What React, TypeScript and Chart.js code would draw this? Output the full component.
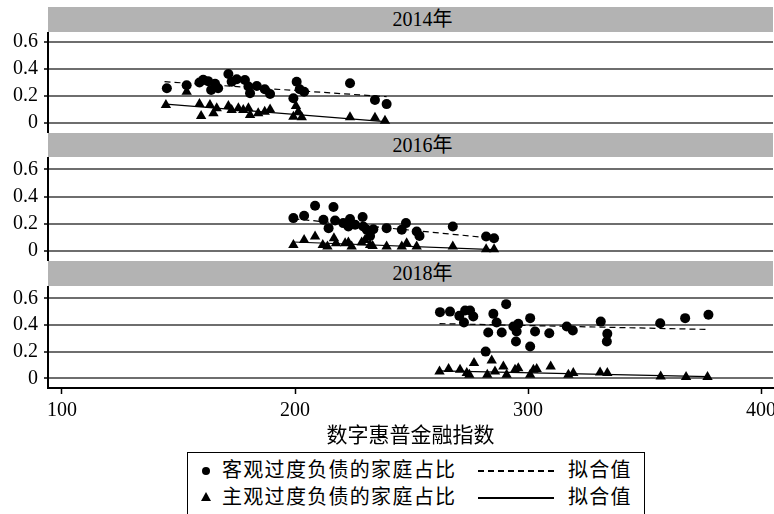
import React, { useEffect, useRef } from "react";
import { Chart, registerables } from "chart.js";
Chart.register(...registerables);

const FONT = '"Liberation Serif", "Times New Roman", "Noto Sans CJK SC", serif';

const panelTitles = ["2014年", "2016年", "2018年"];
const xTicks = [100, 200, 300, 400];
const yTicks = [0, 0.2, 0.4, 0.6];
const xTitle = "数字惠普金融指数";
const legendObj = "客观过度负债的家庭占比";
const legendSubj = "主观过度负债的家庭占比";
const legendFit = "拟合值";

// 2014
const obj14X = [145, 153.5, 159, 160.6, 162.7, 165.7, 164, 167, 171.4, 172.8, 175, 178.5, 180, 180.7, 183.6, 187, 189.3, 199.3, 200.7, 202, 203.9, 223.6, 234.3, 239.3];
const obj14Y = [0.257, 0.28, 0.3, 0.32, 0.31, 0.29, 0.244, 0.257, 0.363, 0.306, 0.324, 0.318, 0.27, 0.22, 0.274, 0.25, 0.215, 0.183, 0.306, 0.25, 0.232, 0.294, 0.17, 0.14];
const subj14X = [144.6, 153.5, 159, 159.7, 163.5, 165, 166.4, 171.4, 172.8, 175.7, 177.8, 180, 180.7, 184.2, 187, 189.3, 199.3, 200.4, 201.4, 202.9, 223.6, 234.3, 238.6];
const subj14Y = [0.133, 0.232, 0.14, 0.052, 0.133, 0.072, 0.109, 0.126, 0.096, 0.109, 0.096, 0.11, 0.059, 0.072, 0.084, 0.1, 0.047, 0.126, 0.084, 0.042, 0.042, 0.039, 0.017];
const fitObj14X = [144, 239.3];
const fitObj14Y = [0.306, 0.195];
const fitSubj14X = [144.6, 238.6];
const fitSubj14Y = [0.14, 0.01];

// 2016
const obj16X = [199.3, 203.9, 208.6, 212.2, 214.4, 216.5, 217.2, 220.7, 223.6, 222.9, 225.8, 229, 229.3, 230.8, 232.2, 233.6, 239.3, 245.8, 247.6, 252.2, 253.4, 267.7, 282, 285.4];
const obj16Y = [0.242, 0.259, 0.333, 0.23, 0.168, 0.324, 0.224, 0.205, 0.235, 0.18, 0.193, 0.25, 0.18, 0.156, 0.111, 0.16, 0.168, 0.156, 0.205, 0.143, 0.111, 0.18, 0.106, 0.094];
const subj16X = [199.3, 203.9, 208.6, 211.9, 213.9, 216.7, 217.6, 221.5, 222.9, 224.3, 228.6, 230, 232.2, 233.3, 239.3, 245.8, 247.9, 252.2, 267.7, 282, 285.4];
const subj16Y = [0.044, 0.081, 0.106, 0.044, 0.032, 0.094, 0.057, 0.057, 0.062, 0.032, 0.062, 0.081, 0.044, 0.037, 0.032, 0.032, 0.057, 0.032, 0.032, 0.013, 0.013];
const fitObj16X = [199.3, 285.4];
const fitObj16Y = [0.237, 0.093];
const fitSubj16X = [199.3, 285.4];
const fitSubj16Y = [0.066, 0.01];

// 2018
const obj18X = [262.2, 266.5, 270.5, 273, 275.1, 272.5, 276.5, 285.1, 286.5, 290.6, 282.9, 288.7, 293.7, 295.8, 295.1, 294.8, 300.9, 303, 300.9, 309.1, 316.6, 319.2, 331.2, 334, 333.8, 356.7, 367.4, 377.4, 281.8];
const obj18Y = [0.496, 0.5, 0.468, 0.508, 0.508, 0.418, 0.463, 0.483, 0.418, 0.556, 0.343, 0.343, 0.388, 0.408, 0.351, 0.276, 0.451, 0.351, 0.238, 0.338, 0.388, 0.358, 0.425, 0.333, 0.276, 0.413, 0.451, 0.476, 0.2];
const subj18X = [262, 265.9, 270.8, 273.7, 274.8, 276.8, 282.5, 284.4, 285.8, 289.4, 290.8, 294.4, 295.8, 300.9, 302.3, 303.7, 309.7, 317.3, 319.4, 330.9, 334, 356.9, 367.8, 377];
const subj18Y = [0.051, 0.069, 0.064, 0.039, 0.026, 0.114, 0.026, 0.133, 0.051, 0.088, 0.026, 0.064, 0.076, 0.026, 0.064, 0.069, 0.088, 0.026, 0.039, 0.043, 0.039, 0.013, 0.009, 0.009];
const fitObj18X = [262, 377.4];
const fitObj18Y = [0.41, 0.366];
const fitSubj18X = [262, 377.4];
const fitSubj18Y = [0.055, 0.012];

const toPts = (xs: number[], ys: number[]) => xs.map((x, i) => ({ x, y: ys[i] }));

const panelData = [
  { obj: [obj14X, obj14Y], subj: [subj14X, subj14Y], fo: [fitObj14X, fitObj14Y], fs: [fitSubj14X, fitSubj14Y] },
  { obj: [obj16X, obj16Y], subj: [subj16X, subj16Y], fo: [fitObj16X, fitObj16Y], fs: [fitSubj16X, fitSubj16Y] },
  { obj: [obj18X, obj18Y], subj: [subj18X, subj18Y], fo: [fitObj18X, fitObj18Y], fs: [fitSubj18X, fitSubj18Y] },
];

const panelGeom = [
  { headerTop: 7, headerH: 25, top: 32, areaH: 101, yMin: -0.074, yMax: 0.674, showX: false },
  { headerTop: 133, headerH: 24, top: 157, areaH: 104, yMin: -0.074, yMax: 0.692, showX: false },
  { headerTop: 261, headerH: 25, top: 286, areaH: 102, yMin: -0.073, yMax: 0.692, showX: true },
];

const X_AXIS_H = 62;

function Panel({ idx }: { idx: number }) {
  const ref = useRef<HTMLCanvasElement | null>(null);
  const g = panelGeom[idx];
  const d = panelData[idx];
  const h = g.areaH + (g.showX ? X_AXIS_H : 0);
  useEffect(() => {
    if (!ref.current) return;
    const chart = new Chart(ref.current, {
      type: "scatter",
      data: {
        datasets: [
          {
            data: toPts(d.fo[0], d.fo[1]),
            showLine: true,
            borderColor: "#000",
            borderWidth: 1.2,
            borderDash: [6, 4],
            pointRadius: 0,
            order: 2,
          } as any,
          {
            data: toPts(d.fs[0], d.fs[1]),
            showLine: true,
            borderColor: "#000",
            borderWidth: 1.2,
            pointRadius: 0,
            order: 2,
          } as any,
          {
            data: toPts(d.obj[0], d.obj[1]),
            pointStyle: "circle",
            pointRadius: 5,
            backgroundColor: "#000",
            borderColor: "#000",
            borderWidth: 0,
            order: 1,
          },
          {
            data: toPts(d.subj[0], d.subj[1]),
            pointStyle: "triangle",
            pointRadius: 6,
            backgroundColor: "#000",
            borderColor: "#000",
            borderWidth: 0,
            order: 1,
          },
        ],
      },
      options: {
        animation: false,
        responsive: false,
        maintainAspectRatio: false,
        events: [],
        layout: { autoPadding: false, padding: { left: 0, right: 1, top: 0, bottom: 0 } },
        plugins: { legend: { display: false }, tooltip: { enabled: false } },
        scales: {
          x: {
            type: "linear",
            min: 94,
            max: 405.1,
            display: g.showX,
            position: "bottom",
            afterBuildTicks: (axis: any) => {
              axis.ticks = xTicks.map((v) => ({ value: v }));
            },
            afterFit: (s: any) => {
              s.height = g.showX ? X_AXIS_H : 0;
              s.paddingLeft = 0;
              s.paddingRight = 0;
            },
            grid: { drawOnChartArea: false, tickLength: 6, tickColor: "#000", tickWidth: 1.5 },
            border: { display: true, color: "#000", width: 2 },
            ticks: { font: { family: FONT, size: 20 }, color: "#000", padding: 5, maxRotation: 0, autoSkip: false },
            title: {
              display: true,
              text: xTitle,
              font: { family: FONT, size: 21 },
              color: "#000",
              padding: { top: 0, bottom: 1 },
            },
          } as any,
          y: {
            type: "linear",
            min: g.yMin,
            max: g.yMax,
            afterBuildTicks: (axis: any) => {
              axis.ticks = yTicks.map((v) => ({ value: v }));
            },
            afterFit: (s: any) => {
              s.width = 48;
              s.paddingTop = 0;
              s.paddingBottom = 0;
            },
            grid: { color: "#6e6e6e", lineWidth: 2, tickLength: 4, tickColor: "#000", tickWidth: 1.5 },
            border: { display: true, color: "#000", width: 2 },
            ticks: {
              font: { family: FONT, size: 20 },
              color: "#000",
              padding: 6,
              autoSkip: false,
              callback: (v: any) => (Number(v) === 0 ? "0" : Number(v).toFixed(1)),
            },
          } as any,
        },
      },
    });
    return () => chart.destroy();
  }, [idx]);
  return (
    <>
      <div
        style={{
          position: "absolute",
          left: 48,
          top: g.headerTop,
          width: 725,
          height: g.headerH,
          background: "#b3b3b3",
          color: "#000",
          textAlign: "center",
          lineHeight: g.headerH + "px",
          fontFamily: FONT,
          fontSize: 20,
          paddingLeft: 24,
          boxSizing: "border-box",
        }}
      >
        {panelTitles[idx]}
      </div>
      <canvas
        ref={ref}
        width={774}
        height={h}
        style={{ position: "absolute", left: 0, top: g.top, width: 774, height: h }}
      />
    </>
  );
}

function Legend() {
  const text: React.CSSProperties = {
    position: "absolute",
    fontFamily: FONT,
    fontSize: 20,
    letterSpacing: 1.3,
    color: "#000",
    lineHeight: "24px",
    whiteSpace: "nowrap",
  };
  return (
    <div
      style={{
        position: "absolute",
        left: 187,
        top: 452,
        width: 458,
        height: 72,
        border: "1px solid #000",
        boxSizing: "border-box",
        background: "#fff",
      }}
    >
      <div style={{ position: "absolute", left: 14, top: 14, width: 8, height: 8, borderRadius: "50%", background: "#000" }} />
      <div style={{ ...text, left: 34, top: 5 }}>{legendObj}</div>
      <div
        style={{
          position: "absolute",
          left: 290,
          top: 17,
          width: 76,
          height: 1.5,
          backgroundImage: "repeating-linear-gradient(to right, #000 0 6px, transparent 6px 10px)",
        }}
      />
      <div style={{ ...text, left: 380, top: 5 }}>{legendFit}</div>

      <div
        style={{
          position: "absolute",
          left: 13,
          top: 39,
          width: 0,
          height: 0,
          borderLeft: "5px solid transparent",
          borderRight: "5px solid transparent",
          borderBottom: "9px solid #000",
        }}
      />
      <div style={{ ...text, left: 34, top: 32 }}>{legendSubj}</div>
      <div style={{ position: "absolute", left: 290, top: 44, width: 76, height: 1.5, background: "#000" }} />
      <div style={{ ...text, left: 380, top: 32 }}>{legendFit}</div>
    </div>
  );
}

export default function App() {
  return (
    <div
      style={{
        position: "absolute",
        left: 0,
        top: 0,
        width: 774,
        height: 514,
        background: "#fff",
        overflow: "hidden",
      }}
    >
      <Panel idx={0} />
      <Panel idx={1} />
      <Panel idx={2} />
      <Legend />
    </div>
  );
}
